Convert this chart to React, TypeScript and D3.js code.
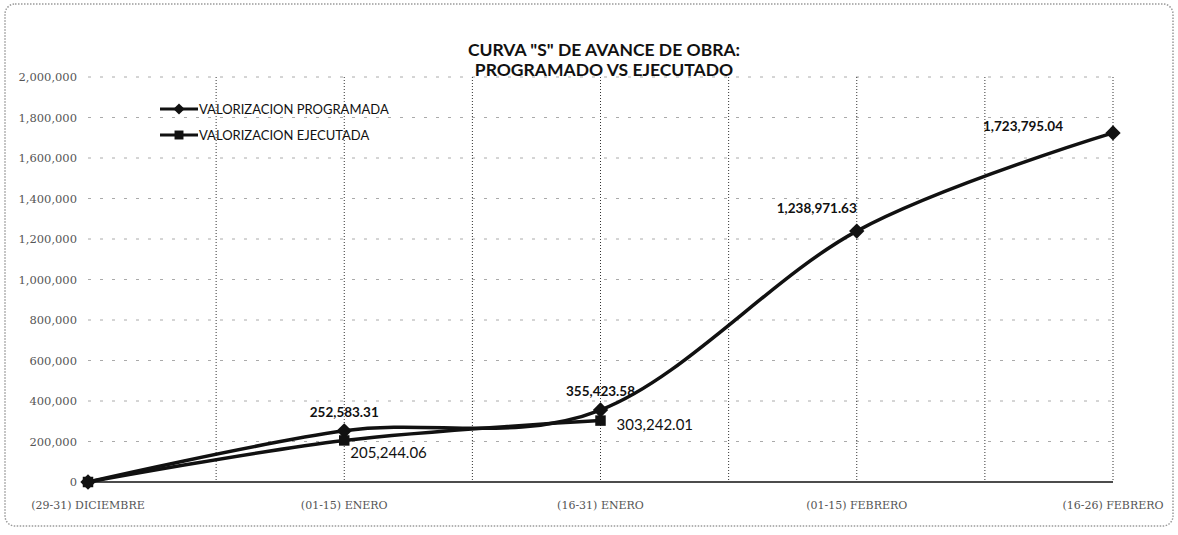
import React, { useEffect, useRef } from "react";
import * as d3 from "d3";

const categories = [
  "(29-31) DICIEMBRE",
  "(01-15) ENERO",
  "(16-31) ENERO",
  "(01-15) FEBRERO",
  "(16-26) FEBRERO",
];
const programada = [0, 252583.31, 355423.58, 1238971.63, 1723795.04];
const ejecutada = [0, 205244.06, 303242.01];
const yTicks = [0, 200000, 400000, 600000, 800000, 1000000, 1200000, 1400000, 1600000, 1800000, 2000000];

const App = () => {
  const svgRef = useRef<SVGSVGElement>(null);

  useEffect(() => {
    const svg = d3.select(svgRef.current);
    svg.selectAll("*").remove();

    const x = d3.scalePoint<string>().domain(categories).range([88, 1113]);
    const y = d3.scaleLinear().domain([0, 2000000]).range([482, 77]);
    const step = x.step();

    // frame
    svg
      .append("rect")
      .attr("x", 5)
      .attr("y", 4)
      .attr("width", 1168)
      .attr("height", 522)
      .attr("rx", 10)
      .attr("fill", "white")
      .attr("stroke", "#9a9a9a")
      .attr("stroke-width", 1.5)
      .attr("stroke-dasharray", "1.5 1.5");

    // title
    const title = svg
      .append("text")
      .attr("text-anchor", "middle")
      .attr("font-family", "Lato, sans-serif")
      .attr("font-weight", "bold")
      .attr("font-size", 17.5)
      .attr("fill", "#111");
    title.append("tspan").attr("x", 604).attr("y", 56).text('CURVA "S" DE AVANCE DE OBRA:');
    title.append("tspan").attr("x", 604).attr("y", 76).text("PROGRAMADO VS EJECUTADO");

    // horizontal gridlines (faint)
    svg
      .append("g")
      .selectAll("line")
      .data(yTicks.filter((d) => d > 0))
      .enter()
      .append("line")
      .attr("x1", 88)
      .attr("x2", 1113)
      .attr("y1", (d) => y(d))
      .attr("y2", (d) => y(d))
      .attr("stroke", "#aaa")
      .attr("stroke-width", 1)
      .attr("stroke-dasharray", "3 9");

    // vertical gridlines at every half category
    const halfSteps = d3.range(1, (categories.length - 1) * 2 + 1);
    svg
      .append("g")
      .selectAll("line")
      .data(halfSteps)
      .enter()
      .append("line")
      .attr("x1", (d) => 88 + (d * step) / 2)
      .attr("x2", (d) => 88 + (d * step) / 2)
      .attr("y1", y(2000000))
      .attr("y2", y(0))
      .attr("stroke", "#333")
      .attr("stroke-width", 1)
      .attr("stroke-dasharray", "1 2");

    // baseline
    svg
      .append("line")
      .attr("x1", 88)
      .attr("x2", 1113)
      .attr("y1", y(0))
      .attr("y2", y(0))
      .attr("stroke", "#111")
      .attr("stroke-width", 1.5);

    // y axis labels
    svg
      .append("g")
      .selectAll("text")
      .data(yTicks)
      .enter()
      .append("text")
      .attr("x", 77)
      .attr("y", (d) => y(d) + 4)
      .attr("text-anchor", "end")
      .attr("font-family", "DejaVu Serif, serif")
      .attr("font-size", 11.5)
      .attr("fill", "#555")
      .text((d) => d3.format(",")(d));

    // x axis labels
    svg
      .append("g")
      .selectAll("text")
      .data(categories)
      .enter()
      .append("text")
      .attr("x", (d) => x(d)!)
      .attr("y", 509)
      .attr("text-anchor", "middle")
      .attr("font-family", "DejaVu Serif, serif")
      .attr("font-size", 11)
      .attr("fill", "#555")
      .text((d) => d);

    const line = d3
      .line<number>()
      .x((d, i) => x(categories[i])!)
      .y((d) => y(d))
      .curve(d3.curveCatmullRom.alpha(0));

    svg
      .append("path")
      .attr("d", line(programada))
      .attr("fill", "none")
      .attr("stroke", "#111")
      .attr("stroke-width", 3.5);
    svg
      .append("path")
      .attr("d", line(ejecutada))
      .attr("fill", "none")
      .attr("stroke", "#111")
      .attr("stroke-width", 3.5);

    const diamond = d3.symbol().type(d3.symbolDiamond2).size(150);
    const square = d3.symbol().type(d3.symbolSquare).size(110);

    svg
      .append("g")
      .selectAll("path")
      .data(programada)
      .enter()
      .append("path")
      .attr("d", diamond)
      .attr("transform", (d, i) => `translate(${x(categories[i])},${y(d)})`)
      .attr("fill", "#111");
    svg
      .append("g")
      .selectAll("path")
      .data(ejecutada)
      .enter()
      .append("path")
      .attr("d", square)
      .attr("transform", (d, i) => `translate(${x(categories[i])},${y(d)})`)
      .attr("fill", "#111");

    // data labels
    const fmt = d3.format(",.2f");
    const progPos = [null, [0, -14, "middle"], [0, -14, "middle"], [0, -18, "end"], [-50, -2, "end"]];
    svg
      .append("g")
      .selectAll("text")
      .data(programada.map((v, i) => ({ v, i })).filter((d) => d.v > 0))
      .enter()
      .append("text")
      .attr("x", (d) => x(categories[d.i])! + (progPos[d.i] as any)[0])
      .attr("y", (d) => y(d.v) + (progPos[d.i] as any)[1])
      .attr("text-anchor", (d) => (progPos[d.i] as any)[2])
      .attr("font-family", "Lato, sans-serif")
      .attr("font-weight", "bold")
      .attr("font-size", 13.5)
      .attr("fill", "#111")
      .text((d) => fmt(d.v));
    svg
      .append("g")
      .selectAll("text")
      .data(ejecutada.map((v, i) => ({ v, i })).filter((d) => d.v > 0))
      .enter()
      .append("text")
      .attr("x", (d) => x(categories[d.i])! + 6 + (d.i === 2 ? 10 : 0))
      .attr("y", (d) => y(d.v) + (d.i === 1 ? 18 : 9))
      .attr("font-family", "Lato, sans-serif")
      .attr("font-size", 15)
      .attr("fill", "#111")
      .text((d) => fmt(d.v));

    // legend
    const legend = [
      { name: "VALORIZACION PROGRAMADA", sym: diamond, y: 109 },
      { name: "VALORIZACION EJECUTADA", sym: square, y: 135 },
    ];
    const lg = svg.append("g").selectAll("g").data(legend).enter().append("g");
    lg.append("line")
      .attr("x1", 160)
      .attr("x2", 198)
      .attr("y1", (d) => d.y)
      .attr("y2", (d) => d.y)
      .attr("stroke", "#111")
      .attr("stroke-width", 3);
    lg.append("path")
      .attr("d", (d) => d.sym.size(80)())
      .attr("transform", (d) => `translate(179,${d.y})`)
      .attr("fill", "#111");
    lg.append("text")
      .attr("x", 199)
      .attr("y", (d) => d.y + 4.5)
      .attr("font-family", "Lato, sans-serif")
      .attr("font-size", 13)
      .attr("fill", "#111")
      .text((d) => d.name);
  }, []);

  return (
    <svg
      ref={svgRef}
      width={1178}
      height={535}
      style={{ position: "absolute", left: 0, top: 0, background: "white" }}
    ></svg>
  );
};

export default App;
